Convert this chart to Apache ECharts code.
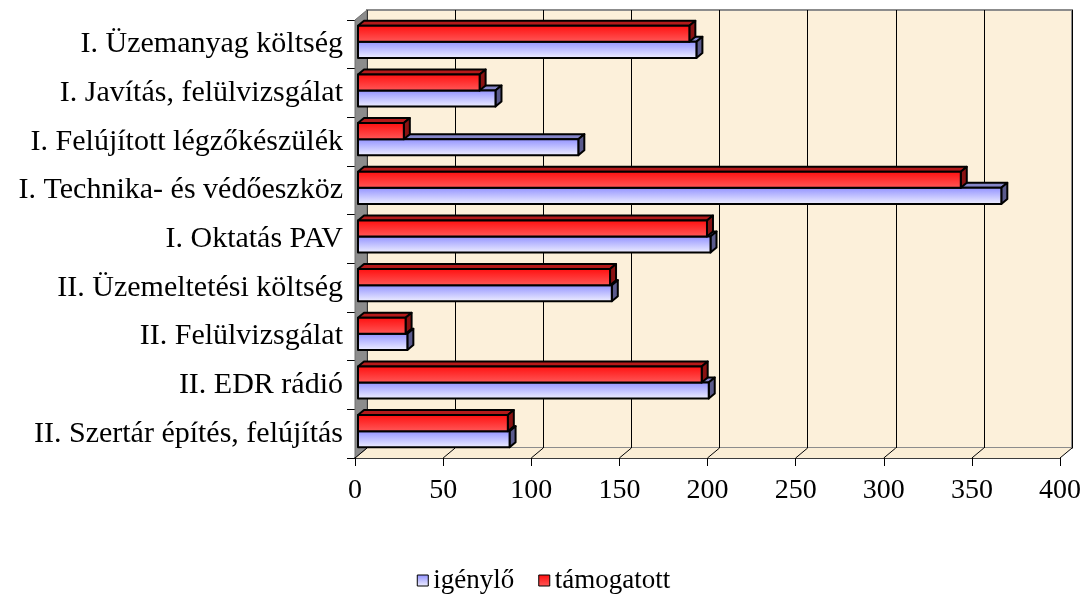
<!DOCTYPE html>
<html>
<head>
<meta charset="utf-8">
<title>igénylő / támogatott</title>
<script src="https://cdn.jsdelivr.net/npm/echarts@6/dist/echarts.min.js"></script>
<style>
  html, body { margin: 0; padding: 0; background: #fff; }
  #chart { width: 1087px; height: 597px; }
</style>
</head>
<body>
<div id="chart"></div>
<script>
// adatok
const categories = [
  'I. Üzemanyag költség',
  'I. Javítás, felülvizsgálat',
  'I. Felújított légzőkészülék',
  'I. Technika- és védőeszköz',
  'I. Oktatás PAV',
  'II. Üzemeltetési költség',
  'II. Felülvizsgálat',
  'II. EDR rádió',
  'II. Szertár építés, felújítás'
]
const igenylo = [192, 78, 125, 365, 200, 144, 28, 199, 86]
const tamogatott = [188, 69, 26, 342, 198, 143, 27, 195, 85]
const xTicks = [0, 50, 100, 150, 200, 250, 300, 350, 400]

const FONT = '"Liberation Serif", "Times New Roman", serif'
const DX = 6, DY = 5 // bar depth

const blueFace = new echarts.graphic.LinearGradient(0, 0, 0, 1, [
  { offset: 0, color: '#8f8fff' },
  { offset: 1, color: '#f2f2ff' }
])
const redFace = new echarts.graphic.LinearGradient(0, 0, 0, 1, [
  { offset: 0, color: '#ff0d0d' },
  { offset: 1, color: '#ff5a5a' }
])

// 3D bar: front face + top + right side
function bar3d(face, top, side, upper) {
  return function(params, api) {
    const v = api.value(0)
    const c = api.value(1)
    const p0 = api.coord([0, c])
    const p1 = api.coord([v, c])
    const h = api.size([0, 1])[1] * 0.33
    const y0 = upper ? p0[1] - h : p0[1]
    const y1 = y0 + h
    const x0 = p0[0], x1 = p1[0]
    const line = { stroke: '#000', lineWidth: 2, lineJoin: 'round' }
    return {
      type: 'group',
      children: [
        {
          type: 'polygon',
          shape: { points: [[x0, y0], [x0 + DX, y0 - DY], [x1 + DX, y0 - DY], [x1, y0]] },
          style: Object.assign({ fill: top }, line)
        },
        {
          type: 'polygon',
          shape: { points: [[x1, y0], [x1 + DX, y0 - DY], [x1 + DX, y1 - DY], [x1, y1]] },
          style: Object.assign({ fill: side }, line)
        },
        {
          type: 'rect',
          shape: { x: x0, y: y0, width: x1 - x0, height: h },
          style: Object.assign({ fill: face }, line)
        }
      ]
    }
  }
}

// slanted floor lines at every tick
function floorLines(params, api) {
  const cs = params.coordSys
  const x = api.coord([api.value(0), 0])[0]
  const yb = cs.y + cs.height
  return {
    type: 'line',
    shape: { x1: x, y1: yb, x2: x + 12, y2: yb - 10 },
    style: { stroke: '#000', lineWidth: 1 }
  }
}

const chart = echarts.init(document.getElementById('chart'))

const valueAxis = {
  type: 'value', min: 0, max: 400, interval: 50
}

chart.setOption({
  animation: false,
  legend: {
    top: 562,
    left: 'center',
    itemWidth: 11,
    itemHeight: 11,
    itemGap: 24,
    textStyle: { fontFamily: FONT, fontSize: 27, color: '#000' },
    data: [
      { name: 'igénylő', icon: 'rect', itemStyle: { color: blueFace, borderColor: '#000', borderWidth: 1 } },
      { name: 'támogatott', icon: 'rect', itemStyle: { color: redFace, borderColor: '#000', borderWidth: 1 } }
    ]
  },
  grid: [
    // back wall
    { left: 367, top: 10, right: 15, bottom: 149, show: true, backgroundColor: '#fcf0da', borderColor: '#8c8c8c', borderWidth: 2, z: 0 },
    // front axes
    { left: 355, top: 20, right: 27, bottom: 139 },
    // bars
    { left: 358, top: 17.5, right: 24, bottom: 141.5 }
  ],
  graphic: [
    // floor
    {
      type: 'polygon', z: 1, silent: true,
      shape: { points: [[355, 458], [367, 448], [1072, 448], [1060, 458]] },
      style: { fill: '#fbeed6' }
    },
    // left wall
    {
      type: 'polygon', z: 1, silent: true,
      shape: { points: [[355, 20], [367, 10], [367, 448], [355, 458]] },
      style: { fill: '#8c8c8c', stroke: '#6e6e6e', lineWidth: 1 }
    }
  ],
  xAxis: [
    Object.assign({}, valueAxis, {
      gridIndex: 0,
      axisLine: { show: false },
      axisTick: { show: false },
      axisLabel: { show: false },
      splitLine: { show: true, lineStyle: { color: '#000', width: 1 } }
    }),
    Object.assign({}, valueAxis, {
      gridIndex: 1,
      axisLine: { show: true, lineStyle: { color: '#3c3c3c', width: 2 } },
      axisTick: { show: true, length: 8, lineStyle: { color: '#000' } },
      axisLabel: { fontFamily: FONT, fontSize: 28, color: '#000', margin: 19 },
      splitLine: { show: false }
    }),
    Object.assign({}, valueAxis, {
      gridIndex: 2, show: false, splitLine: { show: false }
    })
  ],
  yAxis: [
    {
      type: 'category', gridIndex: 0, inverse: true, data: categories,
      axisLine: { show: false }, axisTick: { show: false }, axisLabel: { show: false }
    },
    {
      type: 'category', gridIndex: 1, inverse: true, data: categories,
      axisLine: { show: true, lineStyle: { color: '#000', width: 1 } },
      axisTick: { show: true, length: 8, lineStyle: { color: '#000' } },
      axisLabel: { fontFamily: FONT, fontSize: 30, color: '#000', margin: 12 }
    },
    {
      type: 'category', gridIndex: 2, inverse: true, data: categories, show: false
    }
  ],
  series: [
    {
      name: 'floor',
      type: 'custom',
      xAxisIndex: 1, yAxisIndex: 1,
      z: 2, silent: true,
      renderItem: floorLines,
      data: xTicks.map(v => [v, 0])
    },
    {
      name: 'igénylő',
      type: 'custom',
      xAxisIndex: 2, yAxisIndex: 2,
      z: 3,
      itemStyle: { color: blueFace },
      renderItem: bar3d(blueFace, '#8585c8', '#5a5a8c', false),
      encode: { x: 0, y: 1 },
      data: igenylo.map((v, i) => [v, i])
    },
    {
      name: 'támogatott',
      type: 'custom',
      xAxisIndex: 2, yAxisIndex: 2,
      z: 4,
      itemStyle: { color: redFace },
      renderItem: bar3d(redFace, '#b41a1a', '#8a1212', true),
      encode: { x: 0, y: 1 },
      data: tamogatott.map((v, i) => [v, i])
    }
  ]
})
</script>
</body>
</html>
